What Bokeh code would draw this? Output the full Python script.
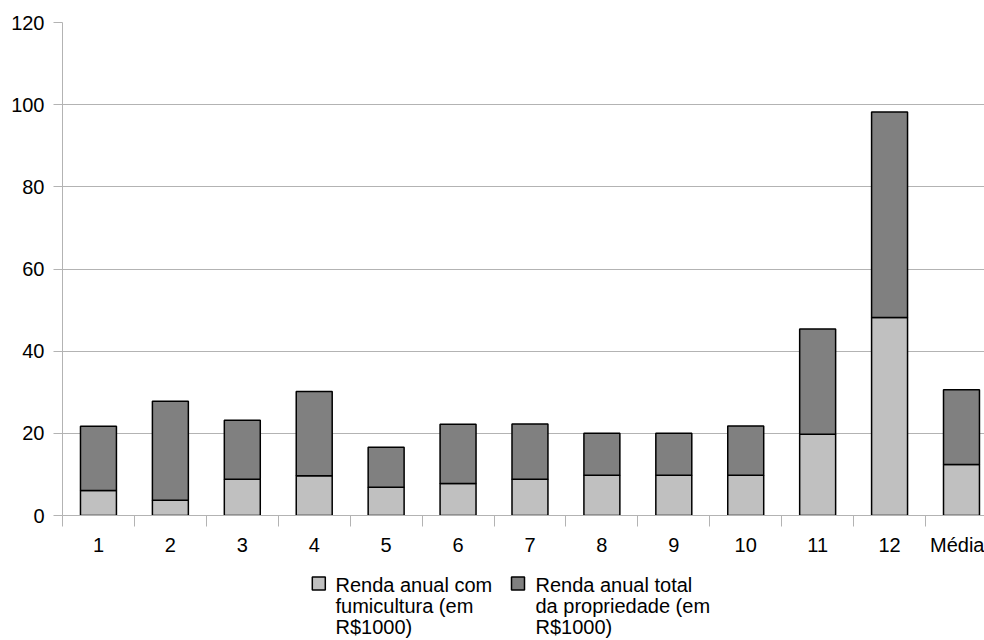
from bokeh.plotting import figure
from bokeh.layouts import column
from bokeh.models import ColumnDataSource, Range1d, FixedTicker
from bokeh.core.properties import value
from bokeh.embed import file_html
from bokeh.resources import INLINE

categorias = ["1", "2", "3", "4", "5", "6", "7", "8", "9", "10", "11", "12", "Média"]
fumicultura = [6.1, 3.7, 8.8, 9.7, 6.9, 7.8, 8.8, 9.8, 9.8, 9.8, 19.8, 48.2, 12.4]
total_propriedade = [15.6, 24.1, 14.4, 20.5, 9.7, 14.4, 13.5, 10.2, 10.2, 12.0, 25.6, 50.0, 18.2]
y_ticks = [0, 20, 40, 60, 80, 100, 120]
serie_labels = [["Renda anual com", "fumicultura (em", "R$1000)"],
                ["Renda anual total", "da propriedade (em", "R$1000)"]]
serie_cores = ["#c0c0c0", "#808080"]

pos = list(range(1, len(categorias) + 1))
src = ColumnDataSource(dict(x=pos, fumi=fumicultura, total=total_propriedade))

FONT = "Liberation Sans"
GRAY = "#b3b3b3"

# ---------------- main chart ----------------
p = figure(width=984, height=565, x_range=Range1d(0.5, 13.32), y_range=Range1d(0, 120),
           output_backend="svg", toolbar_location=None,
           min_border_left=62, min_border_right=0, min_border_top=22, min_border_bottom=50)
p.outline_line_color = None
p.background_fill_color = "white"
p.border_fill_color = "white"

rs = p.vbar_stack(["fumi", "total"], x="x", width=0.5, source=src,
                  fill_color=serie_cores, line_color="black", line_width=1.5)

xa = p.xaxis[0]
xa.ticker = FixedTicker(ticks=pos, minor_ticks=[i + 0.5 for i in range(0, len(pos) + 1)])
xa.major_label_overrides = {i: c for i, c in zip(pos, categorias)}
xa.major_tick_line_color = None
xa.major_tick_out = 11
xa.major_tick_in = 0
xa.minor_tick_in = 0
xa.minor_tick_out = 11
xa.minor_tick_line_color = GRAY
xa.axis_line_color = GRAY
xa.major_label_standoff = 7
xa.major_label_text_font = FONT
xa.major_label_text_font_size = "20px"
xa.major_label_text_color = "black"

ya = p.yaxis[0]
ya.ticker = FixedTicker(ticks=y_ticks)
ya.major_tick_out = 9
ya.major_tick_in = 0
ya.minor_tick_line_color = None
ya.major_tick_line_color = GRAY
ya.axis_line_color = GRAY
ya.major_label_standoff = 9
ya.major_label_text_font = FONT
ya.major_label_text_font_size = "20px"
ya.major_label_text_color = "black"

p.xgrid.visible = False
p.ygrid.ticker = FixedTicker(ticks=y_ticks)
p.ygrid.grid_line_color = GRAY
p.ygrid.grid_line_width = 1

# ---------------- legend strip (frame aligned with the chart above) ----------------
lg = figure(width=984, height=75, x_range=Range1d(62, 984), y_range=Range1d(640, 565),
            output_backend="svg", toolbar_location=None, x_axis_type=None, y_axis_type=None,
            min_border_left=62, min_border_right=0, min_border_top=0, min_border_bottom=0)
lg.outline_line_color = None
lg.xgrid.visible = False
lg.ygrid.visible = False
lg.background_fill_color = "white"
lg.border_fill_color = "white"

box_x = [318.3, 517.5]
text_x = [335, 535]
line_y = [584, 605, 626]
lg.rect(x=box_x, y=[583, 583], width=13, height=13, fill_color=serie_cores,
        line_color="black", line_width=1.5)
tx, ty, tt = [], [], []
for i, lines in enumerate(serie_labels):
    for j, t in enumerate(lines):
        tx.append(text_x[i]); ty.append(line_y[j]); tt.append(t)
lg.text(x=tx, y=ty, text=tt, text_font=value(FONT), text_font_size="20px",
        text_baseline="middle", text_align="left", text_color="black")

layout = column(p, lg, spacing=0)
open("out.html", "w").write(file_html(layout, INLINE))
